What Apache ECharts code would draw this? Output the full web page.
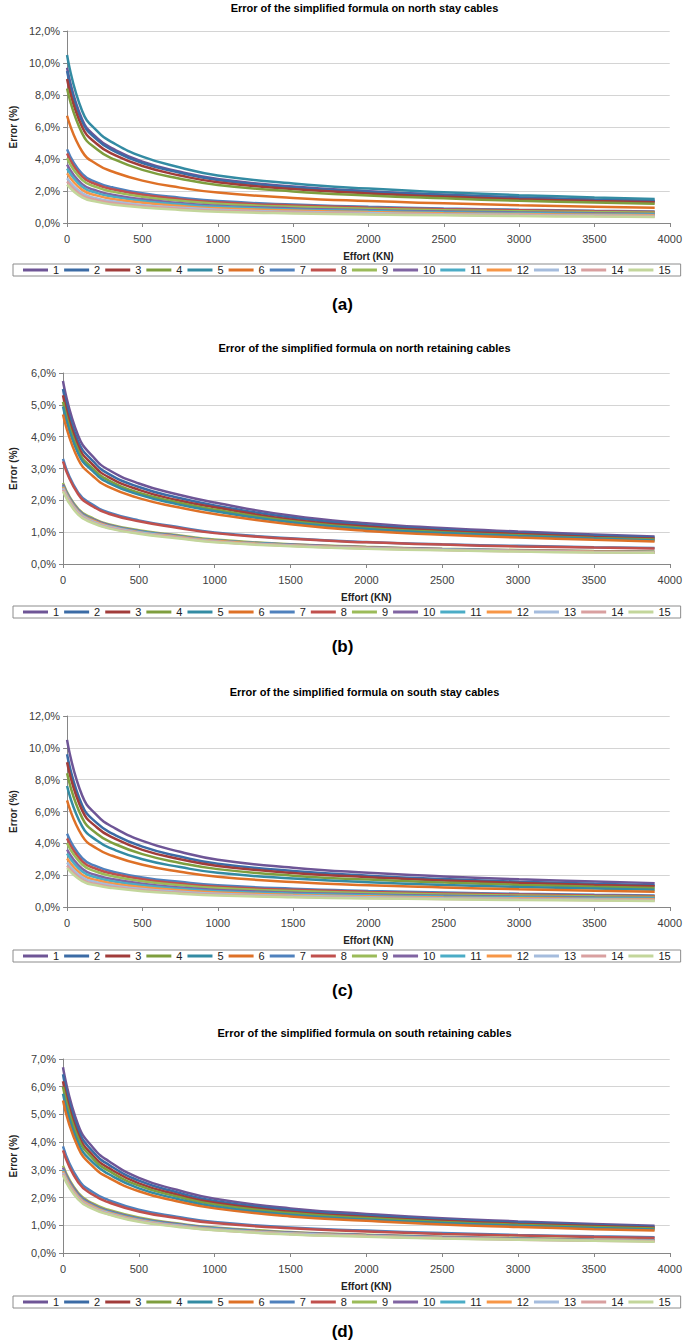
<!DOCTYPE html>
<html><head><meta charset="utf-8">
<script src="https://cdn.jsdelivr.net/npm/echarts/dist/echarts.min.js"></script>
<style>html,body{margin:0;padding:0;background:#fff}#c{width:685px;height:1344px}</style>
</head><body><div id="c"></div>
<script>
// Effort (KN) sample positions
const effortKN = [0,100,200,300,500,750,1000,1500,2000,2500,3000,3500,3900];
const cableNames = ['1','2','3','4','5','6','7','8','9','10','11','12','13','14','15'];
const xTicks = [0,500,1000,1500,2000,2500,3000,3500,4000];

// (a) north stay cables, error %
const northStayErr = [
 [9.7,6.47,5.31,4.66,3.83,3.20,2.75,2.28,1.99,1.78,1.61,1.47,1.39],
 [9.5,6.34,5.20,4.56,3.75,3.14,2.69,2.23,1.95,1.74,1.58,1.44,1.36],
 [9.0,6.00,4.92,4.32,3.56,2.97,2.55,2.12,1.85,1.65,1.49,1.37,1.29],
 [8.4,5.60,4.59,4.03,3.32,2.77,2.38,1.97,1.72,1.54,1.39,1.28,1.20],
 [10.5,7.00,5.74,5.04,4.15,3.47,2.97,2.47,2.15,1.92,1.74,1.60,1.50],
 [6.7,4.47,3.66,3.22,2.65,2.21,1.90,1.57,1.37,1.23,1.11,1.02,0.96],
 [4.6,3.07,2.53,2.23,1.86,1.58,1.37,1.15,1.01,0.91,0.83,0.77,0.72],
 [4.35,2.90,2.39,2.11,1.76,1.49,1.29,1.09,0.96,0.86,0.79,0.73,0.68],
 [4.05,2.70,2.23,1.96,1.64,1.39,1.20,1.01,0.89,0.80,0.73,0.68,0.64],
 [3.65,2.43,2.01,1.77,1.48,1.25,1.08,0.91,0.80,0.72,0.66,0.61,0.57],
 [3.4,2.27,1.87,1.65,1.38,1.17,1.01,0.85,0.75,0.67,0.62,0.57,0.53],
 [3.1,2.07,1.71,1.50,1.26,1.06,0.92,0.78,0.68,0.61,0.56,0.52,0.49],
 [2.8,1.87,1.54,1.36,1.13,0.96,0.83,0.70,0.62,0.55,0.51,0.47,0.44],
 [2.6,1.73,1.43,1.26,1.05,0.89,0.77,0.65,0.57,0.51,0.47,0.43,0.41],
 [2.4,1.60,1.32,1.16,0.97,0.82,0.71,0.60,0.53,0.48,0.43,0.40,0.38]
];

// (b) north retaining cables, error %
const northRetainErr = [
 [5.75,4.03,3.36,2.96,2.53,2.19,1.93,1.52,1.28,1.13,1.02,0.93,0.86],
 [5.5,3.85,3.22,2.83,2.42,2.09,1.84,1.46,1.22,1.08,0.97,0.89,0.83],
 [5.3,3.71,3.10,2.73,2.33,2.01,1.78,1.40,1.18,1.04,0.94,0.85,0.80],
 [5.1,3.57,2.98,2.63,2.24,1.94,1.71,1.35,1.13,1.00,0.90,0.82,0.77],
 [4.95,3.47,2.90,2.55,2.18,1.88,1.66,1.31,1.10,0.97,0.88,0.80,0.74],
 [4.7,3.29,2.75,2.42,2.07,1.79,1.57,1.25,1.04,0.92,0.83,0.76,0.71],
 [3.3,2.24,1.85,1.62,1.37,1.17,0.99,0.81,0.69,0.62,0.57,0.53,0.50],
 [3.22,2.19,1.80,1.58,1.34,1.14,0.97,0.79,0.68,0.61,0.55,0.52,0.49],
 [2.55,1.73,1.43,1.25,1.06,0.91,0.77,0.62,0.54,0.48,0.44,0.41,0.39],
 [2.5,1.70,1.40,1.23,1.04,0.89,0.75,0.61,0.53,0.47,0.43,0.40,0.38],
 [2.45,1.67,1.37,1.20,1.02,0.87,0.74,0.60,0.51,0.46,0.42,0.39,0.37],
 [2.42,1.65,1.36,1.19,1.00,0.86,0.73,0.59,0.51,0.45,0.42,0.39,0.37],
 [2.38,1.62,1.33,1.17,0.99,0.84,0.71,0.58,0.50,0.45,0.41,0.38,0.36],
 [2.33,1.58,1.30,1.14,0.97,0.83,0.70,0.57,0.49,0.44,0.40,0.37,0.35],
 [2.28,1.55,1.28,1.12,0.95,0.81,0.68,0.56,0.48,0.43,0.39,0.36,0.35]
];

// (c) south stay cables, error %
const southStayErr = [
 [10.5,7.00,5.74,5.04,4.15,3.47,2.97,2.47,2.15,1.92,1.74,1.60,1.50],
 [9.6,6.40,5.25,4.61,3.79,3.17,2.72,2.26,1.97,1.76,1.59,1.46,1.37],
 [9.1,6.07,4.98,4.37,3.59,3.00,2.58,2.14,1.87,1.67,1.51,1.38,1.30],
 [8.4,5.60,4.59,4.03,3.32,2.77,2.38,1.97,1.72,1.54,1.39,1.28,1.20],
 [7.6,5.07,4.16,3.65,3.00,2.51,2.15,1.79,1.56,1.39,1.26,1.16,1.09],
 [6.7,4.47,3.66,3.22,2.65,2.21,1.90,1.57,1.37,1.23,1.11,1.02,0.96],
 [4.6,3.07,2.53,2.23,1.86,1.58,1.37,1.15,1.01,0.91,0.83,0.77,0.72],
 [4.3,2.87,2.37,2.09,1.74,1.47,1.28,1.08,0.95,0.85,0.78,0.72,0.68],
 [4.0,2.67,2.20,1.94,1.62,1.37,1.19,1.00,0.88,0.79,0.72,0.67,0.63],
 [3.6,2.40,1.98,1.75,1.46,1.23,1.07,0.90,0.79,0.71,0.65,0.60,0.57],
 [3.35,2.23,1.84,1.62,1.36,1.15,0.99,0.84,0.74,0.66,0.61,0.56,0.53],
 [3.05,2.03,1.68,1.48,1.24,1.05,0.91,0.76,0.67,0.60,0.55,0.51,0.48],
 [2.8,1.87,1.54,1.36,1.13,0.96,0.83,0.70,0.62,0.55,0.51,0.47,0.44],
 [2.6,1.73,1.43,1.26,1.05,0.89,0.77,0.65,0.57,0.51,0.47,0.43,0.41],
 [2.45,1.63,1.35,1.19,0.99,0.84,0.73,0.61,0.54,0.49,0.44,0.41,0.38]
];

// (d) south retaining cables, error %
const southRetainErr = [
 [6.7,4.62,3.79,3.32,2.71,2.28,1.96,1.61,1.41,1.25,1.14,1.05,0.98],
 [6.45,4.45,3.64,3.19,2.61,2.19,1.88,1.55,1.35,1.21,1.10,1.01,0.95],
 [6.2,4.28,3.50,3.07,2.51,2.11,1.81,1.49,1.30,1.16,1.05,0.97,0.91],
 [6.0,4.14,3.39,2.97,2.43,2.04,1.75,1.44,1.26,1.12,1.02,0.94,0.88],
 [5.75,3.97,3.25,2.85,2.33,1.96,1.68,1.38,1.21,1.08,0.98,0.90,0.85],
 [5.5,3.80,3.11,2.72,2.23,1.87,1.61,1.32,1.16,1.03,0.94,0.86,0.81],
 [3.85,2.66,2.18,1.91,1.56,1.31,1.12,0.92,0.81,0.72,0.65,0.60,0.57],
 [3.7,2.55,2.09,1.83,1.50,1.26,1.08,0.89,0.78,0.69,0.63,0.58,0.54],
 [3.15,2.17,1.78,1.56,1.28,1.07,0.92,0.76,0.66,0.59,0.54,0.49,0.46],
 [3.08,2.13,1.74,1.52,1.25,1.05,0.90,0.74,0.65,0.58,0.52,0.48,0.45],
 [3.0,2.07,1.70,1.49,1.22,1.02,0.88,0.72,0.63,0.56,0.51,0.47,0.44],
 [2.95,2.04,1.67,1.46,1.19,1.00,0.86,0.71,0.62,0.55,0.50,0.46,0.43],
 [2.9,2.00,1.64,1.44,1.17,0.99,0.85,0.70,0.61,0.54,0.49,0.45,0.43],
 [2.85,1.97,1.61,1.41,1.15,0.97,0.83,0.68,0.60,0.53,0.48,0.44,0.42],
 [2.8,1.93,1.58,1.39,1.13,0.95,0.82,0.67,0.59,0.52,0.48,0.44,0.41]
];

const panelTitles = [
 'Error of the simplified formula on north stay cables',
 'Error of the simplified formula on north retaining cables',
 'Error of the simplified formula on south stay cables',
 'Error of the simplified formula on south retaining cables'
];
const panelLetters = ['(a)','(b)','(c)','(d)'];
const yMax = [12, 6, 12, 7];
const yStep = [2, 1, 2, 1];

const colors = ['#6E5596','#3B6BA5','#A13C3A','#7E9E3E','#338BA3','#DE7127',
  '#4F81BD','#C0504D','#9BBB59','#8064A2','#4BACC6','#F79646','#A5BCDD','#D9A0A0','#C3D69B'];

const FONT = '"Liberation Sans", Arial, sans-serif';
const datasets = [northStayErr, northRetainErr, southStayErr, southRetainErr];
// layout (px)
const L = [
  {top:31, h:192, titleY:8, legendTop:264, letterY:304},
  {top:373, h:191, titleY:348, legendTop:606, letterY:646},
  {top:716, h:191, titleY:692, legendTop:950, letterY:990},
  {top:1059, h:194, titleY:1033, legendTop:1296, letterY:1331}
];
const plotLeft = 59, plotRight = 670;

const grid = [], xAxis = [], yAxis = [], legend = [], series = [], graphic = [];
L.forEach((p, k) => {
  grid.push({left: plotLeft, width: plotRight - plotLeft, top: p.top, height: p.h, containLabel: false});
  xAxis.push({
    type: 'value', gridIndex: k, min: 0, max: 4000, interval: 500,
    name: 'Effort (KN)', nameLocation: 'middle', nameGap: 28,
    nameTextStyle: {fontFamily: FONT, fontSize: 10, fontWeight: 'bold', color: '#222'},
    axisLine: {show: true, lineStyle: {color: '#868686', width: 1}},
    axisTick: {show: true, length: 4, lineStyle: {color: '#868686'}},
    axisLabel: {fontFamily: FONT, fontSize: 11, color: '#404040', margin: 10,
      formatter: v => String(Math.round(v))},
    splitLine: {show: false}
  });
  yAxis.push({
    type: 'value', gridIndex: k, min: 0, max: yMax[k], interval: yStep[k],
    name: 'Error (%)', nameLocation: 'middle', nameGap: 45, nameRotate: 90,
    nameTextStyle: {fontFamily: FONT, fontSize: 10, fontWeight: 'bold', color: '#222'},
    axisLine: {show: true, lineStyle: {color: '#868686', width: 1}},
    axisTick: {show: true, length: 4, lineStyle: {color: '#868686'}},
    axisLabel: {fontFamily: FONT, fontSize: 11, color: '#404040', margin: 7,
      formatter: v => v.toFixed(1).replace('.', ',') + '%'},
    splitLine: {show: true, lineStyle: {color: '#D4D4D4', width: 1}}
  });
  legend.push({
    left: 13, right: 0, top: p.legendTop, orient: 'horizontal',
    data: cableNames, icon: 'rect', itemWidth: 25, itemHeight: 3, itemGap: 5,
    padding: [0, 10, 0, 10], borderColor: '#8C8C8C', borderWidth: 1,
    textStyle: {fontFamily: FONT, fontSize: 11, color: '#222', lineHeight: 12},
    selectedMode: false
  });
  datasets[k].forEach((row, i) => {
    series.push({
      name: cableNames[i], type: 'line', xAxisIndex: k, yAxisIndex: k,
      data: effortKN.map((x, j) => [x, row[j]]),
      showSymbol: false, symbol: 'none', smooth: 0.5,
      lineStyle: {width: 2.5, color: colors[i]}, itemStyle: {color: colors[i]},
      emphasis: {disabled: true}, silent: true
    });
  });
  graphic.push({type: 'text', x: (plotLeft + plotRight) / 2, y: p.titleY,
    style: {text: panelTitles[k], fill: '#000', font: 'bold 11px ' + FONT,
      textAlign: 'center', textVerticalAlign: 'middle'}});
  graphic.push({type: 'text', x: 342.5, y: p.letterY,
    style: {text: panelLetters[k], fill: '#000', font: 'bold 17px ' + FONT,
      textAlign: 'center', textVerticalAlign: 'middle'}});
});

const chart = echarts.init(document.getElementById('c'), null, {renderer: 'svg'});
chart.setOption({
  backgroundColor: '#fff', animation: false,
  grid, xAxis, yAxis, legend, series, graphic
});
</script></body></html>
